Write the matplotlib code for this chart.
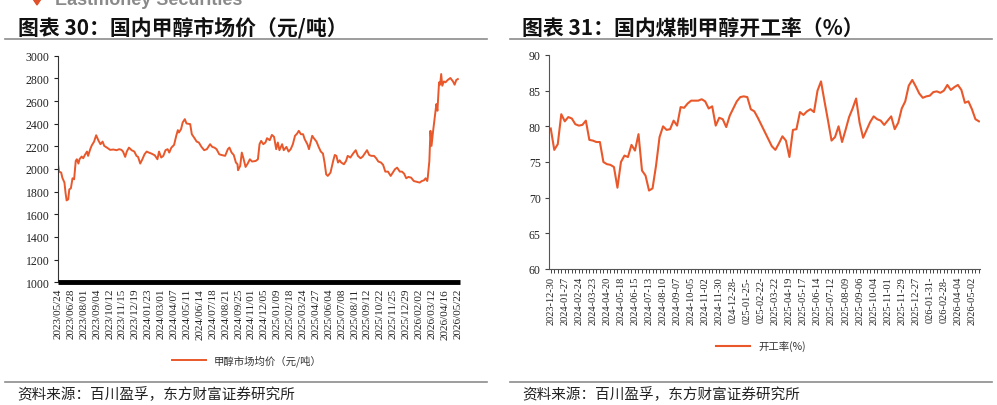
import numpy as np
import matplotlib
matplotlib.use("Agg")
import matplotlib.pyplot as plt
from matplotlib.lines import Line2D

plt.rcParams['font.family'] = ['Noto Sans CJK SC', 'DejaVu Sans']

# ---- left chart: methanol market price (trading-day index, yuan/t)
price_idx = [0, 2, 6, 8, 12, 14, 16, 19, 21, 24, 27, 30, 33, 35, 38, 40, 44, 47, 50, 54,
             56, 60, 63, 67, 71, 75, 79, 83, 86, 91, 97, 103, 109, 114, 118, 121, 125, 128,
             132, 137, 142, 146, 149, 153, 157, 161, 165, 169, 174, 180, 185, 188, 192, 196,
             200, 204, 207, 211, 216, 220, 223, 225, 229, 232, 236, 239, 246, 249, 254, 258,
             262, 267, 272, 277, 283, 287, 291, 295, 300, 304, 311, 316, 319, 323, 327, 331,
             334, 335, 339, 342, 345, 349, 353, 357, 361, 368, 372, 375, 378, 382, 386, 389,
             394, 398, 402, 406, 409, 412, 417, 420, 425, 429, 433, 437, 441, 445, 448, 452,
             456, 459, 464, 467, 470, 473, 476, 481, 485, 489, 493, 496, 499, 502, 507, 512,
             515, 518, 521, 524, 527, 532, 536, 539, 544, 549, 554, 558, 563, 567, 572, 575,
             579, 583, 588, 592, 596, 601, 605, 609, 614, 619, 623, 627, 631, 636, 640, 644,
             648, 652, 657, 662, 667, 673, 677, 681, 684, 687, 688, 691, 693, 695, 698, 701,
             704, 706, 708, 709, 711, 713, 715, 718, 721, 725, 730, 735, 738, 741, 744]
price_val = [2042, 1977, 1968, 1924, 1880, 1791, 1723, 1732, 1820, 1830, 1918, 1909, 2071, 2086,
             2048, 2086, 2110, 2095, 2124, 2154, 2116, 2175, 2210, 2240, 2298, 2254, 2219, 2242,
             2204, 2189, 2169, 2172, 2166, 2175, 2169, 2154, 2107, 2154, 2189, 2166, 2154, 2116,
             2107, 2048, 2086, 2130, 2154, 2145, 2136, 2121, 2086, 2154, 2101, 2116, 2166, 2175,
             2145, 2189, 2213, 2293, 2343, 2322, 2352, 2411, 2440, 2402, 2396, 2307, 2272, 2242,
             2234, 2195, 2166, 2175, 2219, 2195, 2189, 2175, 2130, 2124, 2116, 2175, 2189, 2145,
             2124, 2057, 2042, 1989, 2027, 2145, 2095, 2018, 2048, 2086, 2066, 2071, 2086, 2220,
             2248, 2219, 2234, 2272, 2254, 2301, 2284, 2175, 2234, 2166, 2219, 2166, 2195, 2154,
             2175, 2219, 2293, 2313, 2337, 2307, 2307, 2263, 2219, 2175, 2234, 2293, 2272, 2242,
             2195, 2154, 2136, 2057, 1953, 1939, 1968, 2071, 2124, 2116, 2057, 2077, 2057, 2042,
             2071, 2116, 2101, 2136, 2166, 2116, 2095, 2110, 2145, 2166, 2124, 2116, 2116, 2095,
             2066, 2057, 2036, 1977, 1977, 1939, 1968, 1998, 2012, 1977, 1977, 1959, 1918, 1930,
             1924, 1894, 1888, 1880, 1894, 1900, 1918, 1894, 1924, 2071, 2337, 2204, 2337, 2455,
             2573, 2514, 2691, 2765, 2744, 2838, 2735, 2773, 2765, 2785, 2803, 2773, 2744, 2785,
             2794]
price_labels = ['2023/05/24', '2023/06/28', '2023/08/01', '2023/09/04', '2023/10/12',
                '2023/11/15', '2023/12/19', '2024/01/23', '2024/03/01', '2024/04/07',
                '2024/05/11', '2024/06/14', '2024/07/18', '2024/08/21', '2024/09/25',
                '2024/11/01', '2024/12/05', '2025/01/09', '2025/02/18', '2025/03/24',
                '2025/04/27', '2025/06/04', '2025/07/08', '2025/08/11', '2025/09/12',
                '2025/10/22', '2025/11/25', '2025/12/29', '2026/02/02', '2026/03/12',
                '2026/04/16', '2026/05/22']
price_step = 24

# ---- right chart: coal-based methanol operating rate (weekly, %)
rate_val = [79.7, 76.7, 77.5, 81.7, 80.7, 81.3, 81.1, 80.3, 80.1, 80.2, 80.8, 78.1, 78.0, 77.8,
            77.8, 75.0, 74.7, 74.6, 74.3, 71.4, 75.0, 75.9, 75.7, 77.4, 76.6, 78.9, 73.8, 73.1,
            71.0, 71.3, 74.5, 78.5, 80.0, 79.5, 79.6, 80.8, 80.1, 82.7, 82.6, 83.2, 83.6, 83.6,
            83.6, 83.8, 83.5, 82.5, 82.8, 80.1, 81.2, 81.0, 79.9, 81.5, 82.5, 83.5, 84.1, 84.2,
            84.1, 82.4, 82.1, 81.2, 80.2, 79.2, 78.2, 77.2, 76.7, 77.6, 78.6, 78.0, 75.7, 79.5,
            79.6, 82.0, 81.6, 82.1, 82.4, 82.0, 85.0, 86.3, 83.5, 80.8, 78.0, 78.5, 80.0, 77.8,
            79.5, 81.3, 82.5, 83.9, 80.5, 78.4, 79.5, 80.6, 81.4, 81.0, 80.8, 80.2, 80.8, 81.4,
            79.6, 80.5, 82.5, 83.5, 85.7, 86.5, 85.6, 84.6, 84.0, 84.2, 84.3, 84.8, 84.9, 84.7,
            85.0, 85.8, 85.1, 85.5, 85.8, 85.1, 83.3, 83.5, 82.4, 81.0, 80.7]
rate_labels = ['2023-12-30', '2024-01-27', '2024-02-24', '2024-03-23', '2024-04-20',
               '2024-05-18', '2024-06-15', '2024-07-13', '2024-08-10', '2024-09-07',
               '2024-10-05', '2024-11-02', '2024-11-30', '024-12-28-', '025-01-25-',
               '025-02-22-', '2025-03-22', '2025-04-19', '2025-05-17', '2025-06-14',
               '2025-07-12', '2025-08-09', '2025-09-06', '2025-10-04', '2025-11-01',
               '2025-11-29', '2025-12-27', '026-01-31-', '026-02-28-', '2026-04-04',
               '2026-05-02']
rate_step = 4

LINE = '#E9582B'
W, H = 997, 406
fig = plt.figure(figsize=(W / 100, H / 100), dpi=100)


def fx(px):
    return px / W


def fy(py):
    return 1 - py / H


# header watermark (cut off at the top edge, as in the source page) and titles
fig.text(fx(55), fy(5), 'Eastmoney Securities', color='#8a8a8a', fontsize=13,
         fontweight='bold', family=['Liberation Sans'], va='baseline')
fig.patches.append(plt.Polygon([[fx(33), fy(0)], [fx(41), fy(0)], [fx(37), fy(6)]],
                               closed=True, transform=fig.transFigure, color='#E0502A'))
fig.text(fx(18), fy(28), '图表 30：国内甲醇市场价（元/吨）', fontsize=15, fontweight='bold',
         va='center', color='#111111')
fig.text(fx(522), fy(28), '图表 31：国内煤制甲醇开工率（%）', fontsize=15, fontweight='bold',
         va='center', color='#111111')

# separator lines
for x0, x1 in [(5, 487), (510, 992)]:
    for y in (40, 383):
        fig.add_artist(Line2D([fx(x0), fx(x1)], [fy(y), fy(y)], color='#8c8c8c', lw=1.2,
                              transform=fig.transFigure))
fig.text(fx(17), fy(395), '资料来源：百川盈孚，东方财富证券研究所', fontsize=10.5, va='center',
         color='#222222')
fig.text(fx(522), fy(395), '资料来源：百川盈孚，东方财富证券研究所', fontsize=10.5, va='center',
         color='#222222')

# ---- left axes
ax1 = fig.add_axes([fx(58), fy(283.3), fx(460 - 58), (283.3 - 56.7) / H])
ax1.plot(price_idx, price_val, color=LINE, lw=1.4, label='甲醇市场均价（元/吨）')
ax1.set_xlim(0, 748)
ax1.set_ylim(1000, 3000)
ax1.set_yticks(np.arange(1000, 3001, 200))
ax1.set_xticks(np.arange(len(price_labels)) * price_step)
ax1.set_xticklabels(price_labels, rotation=90, fontsize=8, family=['Liberation Serif'])
for t in ax1.get_yticklabels():
    t.set_family(['Liberation Serif'])
    t.set_fontsize(8.5)
ax1.tick_params(axis='x', length=0, pad=4, colors='#222222')
ax1.tick_params(axis='y', length=3, width=0.8, colors='#222222', pad=3)
ax1.spines['top'].set_visible(False)
ax1.spines['right'].set_visible(False)
ax1.spines['left'].set_color('#333333')
ax1.spines['bottom'].set_color('black')
ax1.spines['bottom'].set_linewidth(3.5)
ax1.spines['bottom'].set_capstyle('butt')
fig.legend(handles=ax1.get_lines(), loc='center', bbox_to_anchor=(fx(247), fy(361)),
           frameon=False, fontsize=7.5, handlelength=3.2, labelcolor='#333333')

# ---- right axes
ax2 = fig.add_axes([fx(549), fy(270), fx(980 - 549), (270 - 56) / H])
weeks = np.arange(len(rate_val))
ax2.plot(weeks, rate_val, color=LINE, lw=1.5, label='开工率(%)')
ax2.set_xlim(-0.5, 122.3)
ax2.set_ylim(60, 90)
ax2.set_yticks(np.arange(60, 91, 5))
ax2.set_xticks(np.arange(len(rate_labels)) * rate_step)
ax2.set_xticks(weeks, minor=True)
ax2.set_xticklabels(rate_labels, rotation=90, fontsize=7.5, family=['Liberation Serif'])
for t in ax2.get_yticklabels():
    t.set_family(['Liberation Serif'])
    t.set_fontsize(8.5)
ax2.tick_params(axis='x', which='both', length=3, width=0.7, colors='#444444', pad=2)
ax2.tick_params(axis='x', which='major', labelcolor='#222222')
ax2.tick_params(axis='y', length=3, width=0.8, colors='#444444', labelcolor='#222222', pad=3)
ax2.spines['top'].set_visible(False)
ax2.spines['right'].set_visible(False)
ax2.spines['left'].set_color('#555555')
ax2.spines['bottom'].set_color('#555555')
fig.legend(handles=ax2.get_lines(), loc='center', bbox_to_anchor=(fx(761), fy(347)),
           frameon=False, fontsize=7.5, handlelength=3.2, labelcolor='#333333')

fig.savefig('out.png', dpi=100)
